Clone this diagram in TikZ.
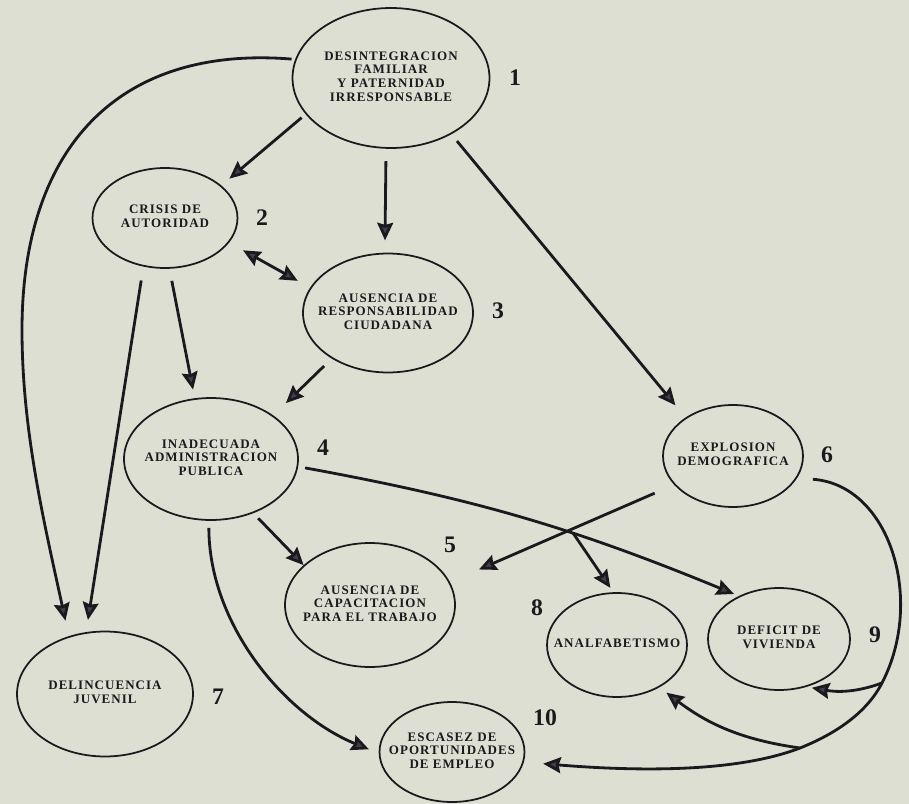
\documentclass[tikz,border=0pt]{standalone}
\usepackage{fontspec}
\setmainfont{Liberation Serif}
\newfontfamily\capsfont{Liberation Serif}[LetterSpace=8]
\usetikzlibrary{shapes.geometric,arrows.meta}
\definecolor{paper}{RGB}{222,223,211}
\definecolor{ink}{RGB}{28,25,30}
\definecolor{tipfill}{RGB}{68,62,74}
% text lines that do not widen the ellipse
\newcommand{\ctext}[1]{\makebox[0pt]{\begin{tabular}{@{}c@{}}#1\end{tabular}}}

\begin{document}
\begin{tikzpicture}[
    x=0.02cm, y=0.02cm,
    cause/.style={ellipse, draw=ink, line width=1pt, text=ink,
      inner sep=0pt, font=\capsfont\bfseries\fontsize{7.4}{7.8}\selectfont},
    num/.style={text=ink, font=\bfseries\fontsize{13.5}{13.5}\selectfont},
    arr/.style={draw=ink, line width=1.6pt, ->},
    >={Stealth[length=10pt,width=9pt,inset=1.2pt,fill=tipfill]}
  ]
  \fill[paper] (0,0) rectangle (909,-804);
  \useasboundingbox (0,0) rectangle (909,-804);

  % causes
  \node[cause, minimum width=3.94cm, minimum height=2.8cm] (1) at (391,-78)
    {\ctext{DESINTEGRACION\\FAMILIAR\\Y PATERNIDAD\\IRRESPONSABLE}};
  \node[cause, minimum width=2.9cm, minimum height=2cm] (2) at (165,-218)
    {\ctext{CRISIS DE\\AUTORIDAD}};
  \node[cause, minimum width=3.4cm, minimum height=2.38cm] (3) at (388,-313)
    {\ctext{AUSENCIA DE\\RESPONSABILIDAD\\CIUDADANA}};
  \node[cause, minimum width=3.48cm, minimum height=2.44cm] (4) at (211,-459)
    {\ctext{INADECUADA\\ADMINISTRACION\\PUBLICA}};
  \node[cause, minimum width=3.4cm, minimum height=2.48cm] (5) at (370,-605)
    {\ctext{AUSENCIA DE\\CAPACITACION\\PARA EL TRABAJO}};
  \node[cause, minimum width=2.8cm, minimum height=2.04cm] (6) at (733,-456)
    {\ctext{EXPLOSION\\DEMOGRAFICA}};
  \node[cause, minimum width=3.52cm, minimum height=2.5cm] (7) at (105,-694)
    {\ctext{DELINCUENCIA\\JUVENIL}};
  \node[cause, minimum width=2.8cm, minimum height=2.08cm] (8) at (617,-645)
    {\ctext{ANALFABETISMO}};
  \node[cause, minimum width=2.84cm, minimum height=2.04cm] (9) at (779,-639)
    {\ctext{DEFICIT DE\\VIVIENDA}};
  \node[cause, minimum width=2.9cm, minimum height=2cm] (10) at (452,-752)
    {\ctext{ESCASEZ DE\\OPORTUNIDADES\\DE EMPLEO}};

  % numbers
  \node[num] (t1) at (515,-78) {1};
  \node[num] (t2) at (262,-218) {2};
  \node[num] (t3) at (498,-311) {3};
  \node[num] (t4) at (323,-448) {4};
  \node[num] (t5) at (450,-545) {5};
  \node[num] (t6) at (827,-455) {6};
  \node[num] (t7) at (218,-697) {7};
  \node[num] (t8) at (537,-608) {8};
  \node[num] (t9) at (875,-635) {9};
  \node[num] (t10) at (545,-718) {10};

  \coordinate (x48) at (573,-533);
  \coordinate (j9) at (882,-683);
  \coordinate (j8) at (800,-748);

  % arrows
  \draw[arr, shorten <=3pt, shorten >=6pt] (1.203) -- (2.30);
  \draw[arr, shorten <=7pt, shorten >=7pt] (1.266) -- (3.93);
  \draw[arr, shorten <=5pt, shorten >=9pt] (1.317) -- (6.141);
  \draw[arr, shorten <=2pt, shorten >=9pt] (1.169)
    .. controls (118,-45) and (22,-148) .. (22,-330)
    .. controls (22,-430) and (44,-522) .. (7.122);
  \draw[arr, <->, shorten <=9pt, shorten >=8pt] (2.-21) -- (3.162);
  \draw[arr, shorten <=8pt, shorten >=7pt] (2.246) -- (7.107);
  \draw[arr, shorten <=7pt, shorten >=5pt] (2.-85) -- (4.105);
  \draw[arr, shorten <=6pt, shorten >=10pt] (3.219) -- (4.35);
  \draw[arr, shorten <=4pt] (4.-52) -- (5.149);
  \draw[arr, shorten <=4pt, shorten >=6pt] (4.-92) .. controls (209,-625) and (285,-715) .. (10.181);
  \draw[arr, shorten <=4pt, shorten >=3pt] (4.-5) to[bend left=6] (9.133);
  \draw[arr, shorten >=3pt] (x48) -- (8.94);
  \draw[arr, shorten <=12pt, shorten >=18pt] (6.206) -- (5.16);
  \draw[arr, shorten <=9pt, shorten >=11pt] (6.-19)
    .. controls (890,-485) and (925,-600) .. (j9)
    .. controls (865,-716) and (830,-736) .. (j8)
    .. controls (730,-775) and (620,-770) .. (10.-8);
  \draw[arr, shorten >=3pt] (j9) to[out=200, in=-10] (9.-60);
  \draw[arr, shorten >=5pt] (j8) to[out=172, in=-37] (8.-45);
\end{tikzpicture}
\end{document}
